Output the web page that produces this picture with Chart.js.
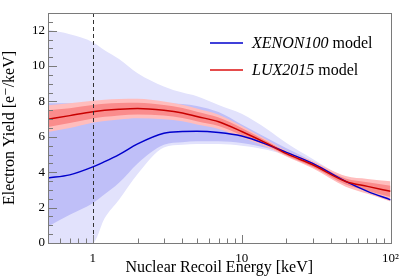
<!DOCTYPE html>
<html>
<head>
<meta charset="utf-8">
<script src="https://cdn.jsdelivr.net/npm/chart.js@4.4.1/dist/chart.umd.min.js"></script>
<style>
  html, body { margin: 0; padding: 0; background: #fff; }
  #caja { width: 407px; height: 277px; }
</style>
</head>
<body>
<div id="caja"><canvas id="grafica"></canvas></div>
<script>
//Energía de retroceso nuclear [keV] (eje x logarítmico)
const energia = [0.5, 0.7, 1, 1.2, 1.5, 2, 3, 4, 5, 7, 10, 15, 20, 30, 50, 70, 100];

//Modelo XENON100: mediana y bandas (interior = oscura, exterior = clara)
const xenonMediana = [3.68, 3.85, 4.3, 4.6, 5.0, 5.6, 6.2, 6.3, 6.32, 6.25, 6.05, 5.55, 5.12, 4.5, 3.48, 2.92, 2.44];
const xenonSup1 = [7.9, 7.9, 7.9, 7.9, 7.9, 7.9, 7.9, 7.85, 7.75, 7.4, 6.7, 5.9, 5.35, 4.6, 3.55, 2.97, 2.46];
const xenonInf1 = [0.93, 1.6, 2.25, 2.75, 3.4, 4.5, 5.55, 5.7, 5.75, 5.75, 5.65, 5.35, 5.02, 4.4, 3.45, 2.9, 2.42];
const xenonSup2 = [12.05, 11.8, 11.35, 10.9, 10.4, 9.6, 8.85, 8.5, 8.3, 7.8, 7.3, 6.4, 5.65, 4.75, 3.65, 3.05, 2.5];
const xenonInf2 = [0, 0, 0, 1.4, 2.45, 3.9, 5.4, 5.55, 5.6, 5.6, 5.5, 5.25, 4.95, 4.35, 3.42, 2.88, 2.38];

//Modelo LUX2015
const luxMediana = [6.99, 7.2, 7.42, 7.5, 7.56, 7.6, 7.5, 7.35, 7.15, 6.85, 6.3, 5.6, 5.05, 4.42, 3.48, 3.2, 2.92];
const luxSup1 = [7.5, 7.62, 7.8, 7.87, 7.91, 7.93, 7.8, 7.63, 7.42, 7.09, 6.5, 5.72, 5.15, 4.54, 3.65, 3.44, 3.24];
const luxInf1 = [6.55, 6.78, 7.04, 7.13, 7.21, 7.27, 7.2, 7.07, 6.88, 6.61, 6.1, 5.48, 4.95, 4.3, 3.31, 2.96, 2.6];
const luxSup2 = [7.78, 7.9, 8.04, 8.1, 8.14, 8.15, 8.0, 7.82, 7.6, 7.25, 6.62, 5.8, 5.21, 4.62, 3.78, 3.62, 3.49];
const luxInf2 = [6.28, 6.5, 6.8, 6.9, 6.98, 7.05, 7.0, 6.88, 6.7, 6.45, 5.98, 5.4, 4.89, 4.22, 3.18, 2.78, 2.35];

//Etiquetas de los ejes
const etiquetasX = {1: '1', 10: '10', 100: '10\u00B2'};
const etiquetasY = [0, 2, 4, 6, 8, 10, 12];
const leyenda = [
    {cursiva: 'XENON100', resto: ' model', color: '#0000cc'},
    {cursiva: 'LUX2015', resto: ' model', color: '#dd1111'}
];

const fuente = '"Liberation Serif", "DejaVu Serif", serif';
const puntos = arr => energia.map((e, i) => ({x: e, y: arr[i]}));

function banda(sup, inf, color, orden) {
    return [
        {data: puntos(sup), backgroundColor: color, borderWidth: 0, fill: '+1', order: orden},
        {data: puntos(inf), backgroundColor: color, borderWidth: 0, fill: false, order: orden}
    ];
}

//Marcas hacia dentro, marco, línea discontinua y leyenda (estilo ROOT)
const decoracion = {
    id: 'decoracion',
    afterDatasetsDraw(chart) {
        const {ctx, chartArea: a, scales} = chart;
        const x = scales.x, y = scales.y;
        ctx.save();
        //línea discontinua en 1 keV
        ctx.strokeStyle = '#333';
        ctx.lineWidth = 1;
        ctx.setLineDash([4, 3]);
        const x1 = Math.round(x.getPixelForValue(1)) + 0.5;
        ctx.beginPath();
        ctx.moveTo(x1, a.top);
        ctx.lineTo(x1, a.bottom);
        ctx.stroke();
        ctx.setLineDash([]);

        //marco
        ctx.strokeStyle = '#7a7a7a';
        ctx.strokeRect(Math.round(a.left) + 0.5, Math.round(a.top) + 0.5,
            Math.round(a.right - a.left), Math.round(a.bottom - a.top));

        //marcas eje x
        ctx.beginPath();
        for (let d = 0.1; d < 100; d *= 10) {
            for (let m = 1; m < 10; m++) {
                const v = +(d * m).toPrecision(3);
                if (v < 0.5 || v > 100) continue;
                const px = Math.round(x.getPixelForValue(v)) + 0.5;
                const largo = m === 1 ? 8 : 4.5;
                ctx.moveTo(px, a.bottom);
                ctx.lineTo(px, a.bottom - largo);
            }
        }
        //marcas eje y
        for (let v = 0; v <= 13; v += 0.5) {
            const py = Math.round(y.getPixelForValue(v)) + 0.5;
            const largo = v % 2 === 0 ? 9 : 5;
            ctx.moveTo(a.left, py);
            ctx.lineTo(a.left + largo, py);
        }
        ctx.stroke();

        //leyenda
        leyenda.forEach((l, i) => {
            const yy = 43 + i * 27;
            ctx.strokeStyle = l.color;
            ctx.lineWidth = 1.5;
            ctx.beginPath();
            ctx.moveTo(210, yy);
            ctx.lineTo(243, yy);
            ctx.stroke();
            ctx.fillStyle = '#000';
            ctx.textBaseline = 'middle';
            ctx.font = 'italic 16px ' + fuente;
            ctx.fillText(l.cursiva, 252, yy + 1);
            const w = ctx.measureText(l.cursiva).width;
            ctx.font = '16px ' + fuente;
            ctx.fillText(l.resto, 252 + w, yy + 1);
        });
        ctx.restore();
    }
};

new Chart(document.getElementById('grafica'), {
    type: 'line',
    data: {
        datasets: [
            ...banda(xenonSup2, xenonInf2, '#e2e2fc', 10),
            ...banda(xenonSup1, xenonInf1, '#bfbff8', 8),
            ...banda(luxSup2, luxInf2, '#ffbdbd', 6),
            ...banda(luxSup1, luxInf1, '#fa8c8c', 4),
            {data: puntos(xenonMediana), borderColor: '#0000cc', borderWidth: 1.5, fill: false, order: 1},
            {data: puntos(luxMediana), borderColor: '#c80000', borderWidth: 1.5, fill: false, order: 0}
        ]
    },
    options: {
        responsive: true,
        maintainAspectRatio: false,
        animation: false,
        parsing: false,
        elements: {
            point: {radius: 0},
            line: {cubicInterpolationMode: 'monotone'}
        },
        layout: {padding: {top: 13, right: 14, left: 0, bottom: 0}},
        plugins: {legend: {display: false}, tooltip: {enabled: false}},
        scales: {
            x: {
                type: 'logarithmic',
                min: 0.5,
                max: 100,
                grid: {display: false, drawTicks: false},
                border: {display: false},
                afterFit: s => { s.height = 34; },
                ticks: {
                    autoSkip: false,
                    maxRotation: 0,
                    padding: 8,
                    color: '#000',
                    font: {family: fuente, size: 13},
                    callback: v => etiquetasX[v] || ''
                },
                title: {
                    display: true,
                    text: 'Nuclear Recoil Energy [keV]',
                    color: '#000',
                    font: {family: fuente, size: 16},
                    padding: {top: 0, bottom: 0}
                }
            },
            y: {
                min: 0,
                max: 13,
                grid: {display: false, drawTicks: false},
                border: {display: false},
                afterFit: s => { s.width = 48; },
                ticks: {
                    stepSize: 2,
                    autoSkip: false,
                    padding: 3,
                    color: '#000',
                    font: {family: fuente, size: 13},
                    callback: v => etiquetasY.includes(v) ? v : ''
                },
                title: {
                    display: true,
                    text: 'Electron Yield [e\u207B/keV]',
                    color: '#000',
                    font: {family: fuente, size: 16},
                    padding: {top: 0, bottom: 2}
                }
            }
        }
    },
    plugins: [decoracion]
});
</script>
</body>
</html>
